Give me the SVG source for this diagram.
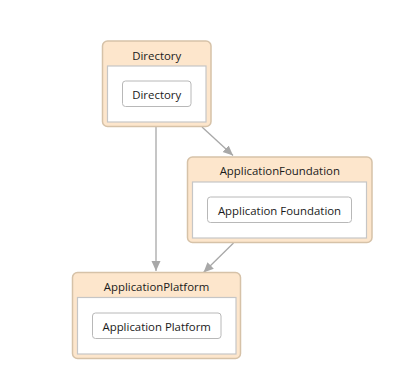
<svg xmlns="http://www.w3.org/2000/svg" width="416" height="387" viewBox="0 0 416 387">
<style>
.outer{fill:#fde6cc;stroke:#d6c2a8;stroke-width:1.5}
.inner{fill:#ffffff;stroke:#c6c6c6;stroke-width:1.2}
.box{fill:#ffffff;stroke:#b8b8b8;stroke-width:1}
.t{font-family:"Segoe UI","Open Sans","Noto Sans",sans-serif;font-size:11.4px;fill:#1a1a1a;text-anchor:middle;dominant-baseline:central}
.e{stroke:#a8a8a8;stroke-width:1.3;fill:none}
</style>
<defs>
<marker id="ah" viewBox="0 0 10 10" refX="10" refY="5" markerWidth="10" markerHeight="10" markerUnits="userSpaceOnUse" orient="auto">
<path d="M0,0.5 L10,5 L0,9.5 z" fill="#a8a8a8"/>
</marker>
</defs>
<g id="connectors">
<line class="e" x1="156" y1="127" x2="156" y2="271" marker-end="url(#ah)"/>
<line class="e" x1="202" y1="127" x2="233" y2="155.5" marker-end="url(#ah)"/>
<line class="e" x1="233.5" y1="243" x2="203.5" y2="272.5" marker-end="url(#ah)"/>
</g>
<g id="Directory">
<rect class="outer" x="102.5" y="41" width="108.5" height="85.5" rx="5"/>
<text class="t" x="156.7" y="55">Directory</text>
<rect class="inner" x="107.5" y="66" width="98.5" height="56"/>
<rect class="box" x="122.5" y="81" width="68.5" height="25.5" rx="3"/>
<text class="t" x="156.7" y="94">Directory</text>
</g>
<g id="ApplicationFoundation">
<rect class="outer" x="187.5" y="157" width="184.5" height="85.5" rx="5"/>
<text class="t" x="279.8" y="170">ApplicationFoundation</text>
<rect class="inner" x="192.5" y="182" width="174" height="56"/>
<rect class="box" x="207.5" y="197" width="144" height="25.5" rx="3"/>
<text class="t" x="279.5" y="210">Application Foundation</text>
</g>
<g id="ApplicationPlatform">
<rect class="outer" x="72.5" y="272.5" width="168" height="86" rx="5"/>
<text class="t" x="156.5" y="286.5">ApplicationPlatform</text>
<rect class="inner" x="77.5" y="297.5" width="158.5" height="56.5"/>
<rect class="box" x="92.5" y="313" width="128.5" height="25.5" rx="3"/>
<text class="t" x="156.7" y="326">Application Platform</text>
</g>
</svg>
